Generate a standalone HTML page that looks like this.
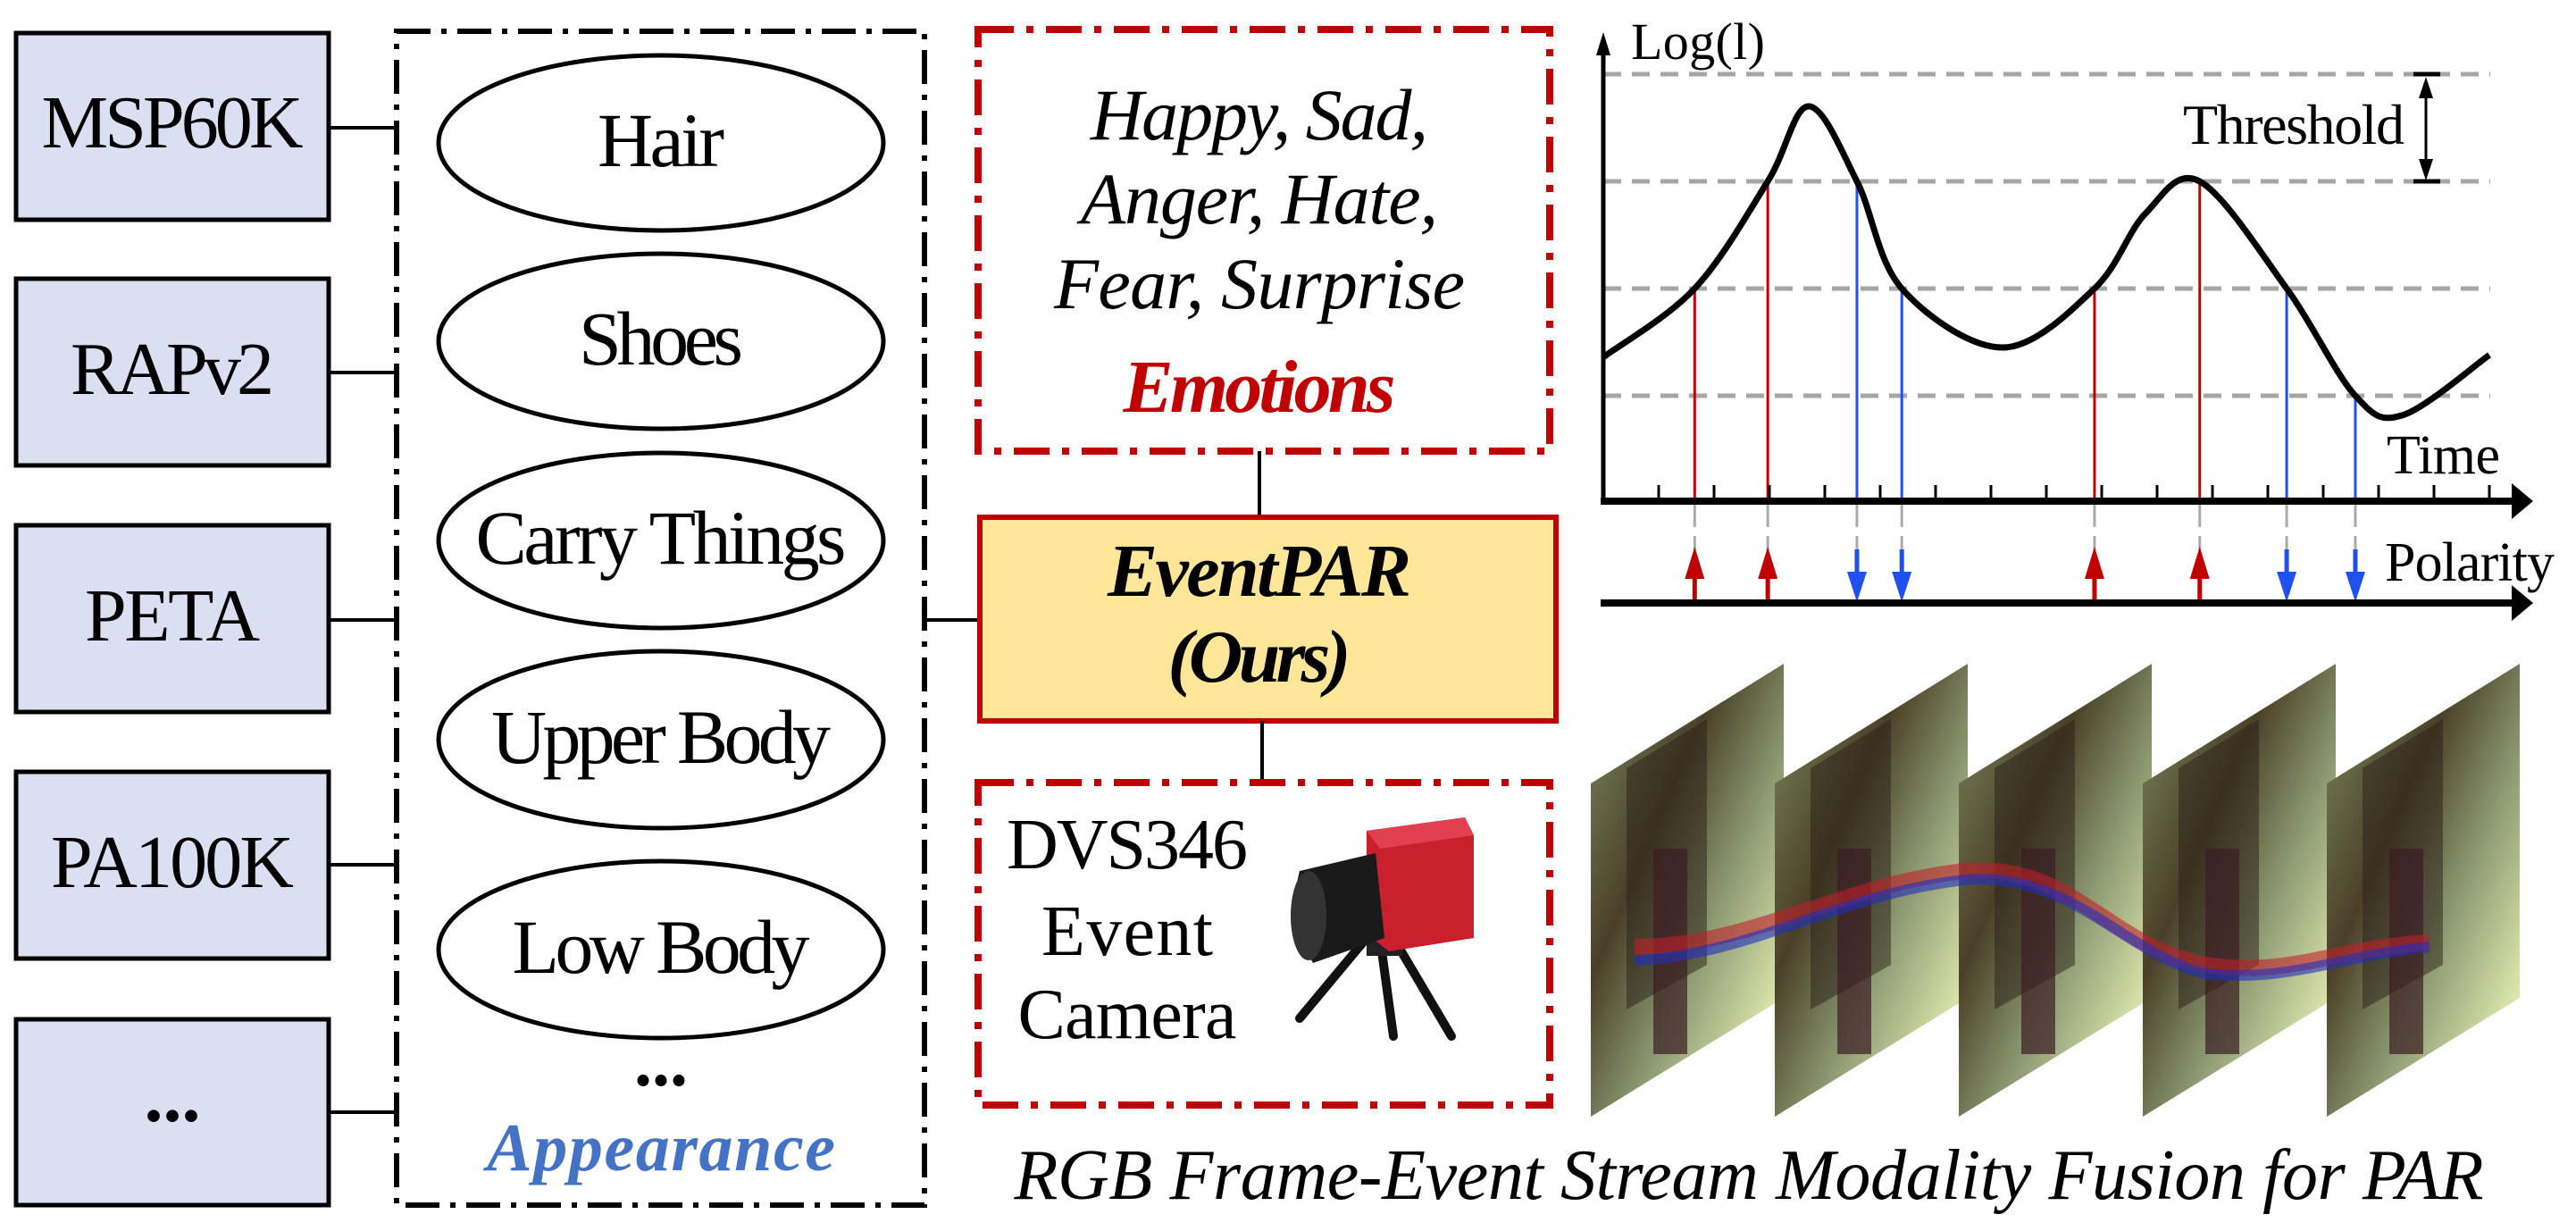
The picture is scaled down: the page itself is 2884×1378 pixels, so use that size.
<!DOCTYPE html>
<html><head><meta charset="utf-8"><style>
html,body{margin:0;padding:0;background:#fff;}
svg{display:block;}
svg text{font-family:"Liberation Serif","Times New Roman",serif !important;}
.t{fill:#000;}
</style></head><body>
<svg id="fig" width="2884" height="1378" viewBox="0 0 2884 1378" xmlns="http://www.w3.org/2000/svg" font-family="Liberation Serif, serif">
<defs>
<linearGradient id="frameGrad" x1="0" y1="0" x2="1" y2="1">
<stop offset="0" stop-color="#7f8a62"/><stop offset="0.35" stop-color="#4a4028"/><stop offset="0.6" stop-color="#8d9a72"/><stop offset="0.85" stop-color="#d9e3aa"/><stop offset="1" stop-color="#f6f8d0"/>
</linearGradient>
</defs>

<g>
<rect x="18" y="37" width="350" height="209" fill="#DAE0F2" stroke="#000" stroke-width="5"/>
<text class="t" x="193" y="165" font-size="84" text-anchor="middle" textLength="293">MSP60K</text>
<rect x="18" y="312" width="350" height="209" fill="#DAE0F2" stroke="#000" stroke-width="5"/>
<text class="t" x="193" y="441" font-size="84" text-anchor="middle" textLength="228">RAPv2</text>
<rect x="18" y="588" width="350" height="209" fill="#DAE0F2" stroke="#000" stroke-width="5"/>
<text class="t" x="193" y="717" font-size="84" text-anchor="middle" textLength="196">PETA</text>
<rect x="18" y="864" width="350" height="209" fill="#DAE0F2" stroke="#000" stroke-width="5"/>
<text class="t" x="193" y="993" font-size="84" text-anchor="middle" textLength="272">PA100K</text>
<rect x="18" y="1141" width="350" height="208" fill="#DAE0F2" stroke="#000" stroke-width="5"/>
<text class="t" x="193" y="1255" font-size="84" font-weight="bold" text-anchor="middle">...</text>
</g>
<g stroke="#000" stroke-width="4">
<line x1="368" y1="143" x2="444" y2="143"/><line x1="368" y1="417" x2="444" y2="417"/><line x1="368" y1="694" x2="444" y2="694"/><line x1="368" y1="968" x2="444" y2="968"/><line x1="368" y1="1245" x2="444" y2="1245"/>
<line x1="1035" y1="694" x2="1097" y2="694"/>
</g>

<rect x="444" y="35" width="591" height="1314" fill="none" stroke="#000" stroke-width="6" stroke-dasharray="38,12,6,12"/>
<g fill="#fff" stroke="#000" stroke-width="5">
<ellipse cx="740" cy="160" rx="249" ry="98"/>
<ellipse cx="740" cy="382" rx="249" ry="98"/>
<ellipse cx="740" cy="605" rx="249" ry="98"/>
<ellipse cx="740" cy="828" rx="249" ry="99"/>
<ellipse cx="740" cy="1063" rx="249" ry="99"/>
</g>
<text class="t" x="740" y="186" font-size="86" text-anchor="middle" textLength="142">Hair</text>
<text class="t" x="740" y="408" font-size="86" text-anchor="middle" textLength="184">Shoes</text>
<text class="t" x="740" y="631" font-size="86" text-anchor="middle" textLength="415">Carry Things</text>
<text class="t" x="740" y="854" font-size="86" text-anchor="middle" textLength="380">Upper Body</text>
<text class="t" x="740" y="1089" font-size="86" text-anchor="middle" textLength="333">Low Body</text>
<text class="t" x="740" y="1215" font-size="80" font-weight="bold" text-anchor="middle">...</text>
<text x="740" y="1310" font-size="76" font-weight="bold" font-style="italic" text-anchor="middle" fill="#4472C4" textLength="390">Appearance</text>

<rect x="1095" y="33" width="640" height="472" fill="none" stroke="#C00000" stroke-width="8" stroke-dasharray="40,14,8,14"/>
<text class="t" x="1410" y="156" font-size="82" font-style="italic" text-anchor="middle" textLength="378">Happy, Sad,</text>
<text class="t" x="1410" y="250" font-size="82" font-style="italic" text-anchor="middle" textLength="400">Anger, Hate,</text>
<text class="t" x="1410" y="345" font-size="82" font-style="italic" text-anchor="middle" textLength="460">Fear, Surprise</text>
<text x="1410" y="461" font-size="84" font-weight="bold" font-style="italic" fill="#C00000" text-anchor="middle" textLength="305">Emotions</text>
<line x1="1410" y1="505" x2="1410" y2="579" stroke="#000" stroke-width="4"/>

<rect x="1097" y="579" width="645" height="228" fill="#FFE699" stroke="#C00000" stroke-width="6"/>
<text class="t" x="1410" y="667" font-size="84" font-weight="bold" font-style="italic" text-anchor="middle" textLength="340">EventPAR</text>
<text class="t" x="1410" y="763" font-size="84" font-weight="bold" font-style="italic" text-anchor="middle" textLength="205">(Ours)</text>
<line x1="1413" y1="807" x2="1413" y2="878" stroke="#000" stroke-width="4"/>

<rect x="1095" y="876" width="640" height="361" fill="none" stroke="#C00000" stroke-width="8" stroke-dasharray="40,14,8,14"/>
<text class="t" x="1262" y="972" font-size="80" text-anchor="middle" textLength="270">DVS346</text>
<text class="t" x="1262" y="1069" font-size="80" text-anchor="middle" textLength="192">Event</text>
<text class="t" x="1262" y="1162" font-size="80" text-anchor="middle" textLength="245">Camera</text>
<g>
<path d="M1530 1050 L1455 1140 M1560 1050 L1625 1160 M1545 1050 L1560 1160" stroke="#111" stroke-width="10" stroke-linecap="round" fill="none"/>
<rect x="1530" y="1010" width="40" height="60" fill="#222"/>
<path d="M1530 930 L1640 915 L1650 935 L1650 1050 L1555 1065 L1530 1045 Z" fill="#c8202c"/>
<path d="M1530 930 L1640 915 L1650 935 L1545 950 Z" fill="#e04050"/>
<path d="M1455 975 L1540 955 L1550 1050 L1470 1078 Q1440 1030 1455 975 Z" fill="#1a1a1a"/>
<ellipse cx="1465" cy="1025" rx="20" ry="50" fill="#333"/>
</g>

<g id="chart"></g>
<g id="frames"></g>

<text class="t" x="1958" y="1342" font-size="80" font-style="italic" text-anchor="middle" textLength="1645">RGB Frame-Event Stream Modality Fusion for PAR</text>
</svg>
<script>
const curveTimes = [0, 1.65, 2.97, 3.71, 4.58, 5.39, 7.21, 8.87, 9.79, 10.77, 12.34, 13.58, 14.44, 16.0];
const curveLogI = [1.36, 2.0, 3.0, 3.7, 3.0, 2.0, 1.45, 2.0, 2.7, 3.0, 2.0, 1.0, 0.82, 1.38];
const eventTimes = [1.65, 2.97, 4.58, 5.39, 8.87, 10.77, 12.34, 13.58];
const eventLevels = [2, 3, 3, 2, 2, 3, 2, 1];
const eventPolarity = [1, 1, -1, -1, 1, 1, -1, -1];
const thresholdLevels = [1, 2, 3, 4];
const tickTimes = [1,2,3,4,5,6,7,8,9,10,11,12,13,14,15,16];
const frameIndex = [0, 1, 2, 3, 4];

const NS = 'http://www.w3.org/2000/svg';
const X0 = 1795, XUNIT = 62, AXY = 561;
function xScale(t){ return X0 + t * XUNIT; }
function yScale(v){ return 563 - v * 120; }
function mk(tag, attrs, parent){
  const e = document.createElementNS(NS, tag);
  for (const k in attrs) e.setAttribute(k, attrs[k]);
  parent.appendChild(e); return e;
}
const chart = document.getElementById('chart');

thresholdLevels.forEach(function(l){
  const ln = mk('line', {x1: X0, x2: 2788, y1: yScale(l), y2: yScale(l), stroke: '#a6a6a6', 'stroke-width': 5, 'stroke-dasharray': '20,12'}, chart);
  
  
});

const POLY = 675;
eventTimes.forEach(function(t, i){
  const x = xScale(t), col = eventPolarity[i] > 0 ? '#C00000' : '#2050F0';
  const v = mk('line', {x1: x, x2: x, y1: yScale(eventLevels[i]), y2: AXY, stroke: col, 'stroke-width': 3}, chart);
  
  
  const g1 = mk('line', {x1: x, x2: x, y1: AXY, y2: 590, stroke: '#aaa', 'stroke-width': 3}, chart);
  
  
  const g2 = mk('line', {x1: x, x2: x, y1: 600, y2: 616, stroke: '#aaa', 'stroke-width': 3}, chart);
  
  
  const ag = mk('g', {}, chart);
  
  
  if (eventPolarity[i] > 0){
    mk('line', {x1: x, x2: x, y1: POLY, y2: 640, stroke: col, 'stroke-width': 5}, ag);
    mk('polygon', {points: (x-11)+','+648+' '+x+','+612+' '+(x+11)+','+648, fill: col}, ag);
  } else {
    mk('line', {x1: x, x2: x, y1: 615, y2: 645, stroke: col, 'stroke-width': 5}, ag);
    mk('polygon', {points: (x-11)+','+640+' '+x+','+674+' '+(x+11)+','+640, fill: col}, ag);
  }
});

tickTimes.forEach(function(t){
  const tk = mk('line', {x1: xScale(t), x2: xScale(t), y1: 543, y2: AXY, stroke: '#000', 'stroke-width': 3}, chart);
  
  
});

const pts = curveTimes.map(function(t, i){ return [xScale(t), yScale(curveLogI[i])]; });
let d = 'M' + pts[0][0] + ' ' + pts[0][1];
for (let i = 0; i < pts.length - 1; i++){
  const p0 = pts[Math.max(0, i-1)], p1 = pts[i], p2 = pts[i+1], p3 = pts[Math.min(pts.length-1, i+2)];
  const c1 = [p1[0] + (p2[0]-p0[0])/6, p1[1] + (p2[1]-p0[1])/6];
  const c2 = [p2[0] - (p3[0]-p1[0])/6, p2[1] - (p3[1]-p1[1])/6];
  d += ' C' + c1[0] + ' ' + c1[1] + ' ' + c2[0] + ' ' + c2[1] + ' ' + p2[0] + ' ' + p2[1];
}
const curve = mk('path', {d: d, fill: 'none', stroke: '#000', 'stroke-width': 7}, chart);



const ya = mk('path', {d: 'M1795 563 L1795 45', stroke: '#000', 'stroke-width': 5, fill: 'none'}, chart);


const yah = mk('polygon', {points: '1787,62 1795,36 1803,62', fill: '#000'}, chart);


const xa = mk('path', {d: 'M1792 561 L2820 561', stroke: '#000', 'stroke-width': 8, fill: 'none'}, chart);


const xah = mk('polygon', {points: '2812,541 2836,561 2812,581', fill: '#000'}, chart);


const pa = mk('path', {d: 'M1792 675 L2820 675', stroke: '#000', 'stroke-width': 8, fill: 'none'}, chart);


const pah = mk('polygon', {points: '2812,655 2836,675 2812,695', fill: '#000'}, chart);



const thr = mk('g', {}, chart);


mk('line', {x1: 2716, x2: 2716, y1: 95, y2: 192, stroke: '#000', 'stroke-width': 3}, thr);
mk('polygon', {points: '2708,110 2716,86 2724,110', fill: '#000'}, thr);
mk('polygon', {points: '2708,178 2716,202 2724,178', fill: '#000'}, thr);
mk('line', {x1: 2702, x2: 2732, y1: yScale(4), y2: yScale(4), stroke: '#000', 'stroke-width': 5}, thr);
mk('line', {x1: 2702, x2: 2732, y1: yScale(3), y2: yScale(3), stroke: '#000', 'stroke-width': 5}, thr);

function label(txt, x, y, len, fs, name){
  const t = mk('text', {x: x, y: y, 'font-size': fs, textLength: len, class: 't'}, chart);
  t.textContent = txt;
  
  
}
label('Log(l)', 1826, 66, 150, 58, 'y-axis-title');
label('Threshold', 2444, 161, 248, 64, 'threshold-label');
label('Time', 2672, 530, 127, 62, 'time-axis-title');
label('Polarity', 2670, 650, 190, 62, 'polarity-axis-title');

const frames = document.getElementById('frames');
frameIndex.forEach(function(i){
  const lx = 1781 + i * 206, w = 216;
  const g = mk('g', {}, frames);
  
  
  const pts = lx+','+877+' '+(lx+w)+','+743+' '+(lx+w)+','+1117+' '+lx+','+1250;
  mk('polygon', {points: pts, fill: 'url(#frameGrad)'}, g);
  mk('polygon', {points: (lx+40)+','+860+' '+(lx+130)+','+805+' '+(lx+130)+','+1080+' '+(lx+40)+','+1130, fill: '#2a2018', opacity: 0.5}, g);
  mk('rect', {x: lx+70, y: 950, width: 38, height: 230, fill: '#3a1c22', opacity: 0.7}, g);
});
const wave = mk('path', {d: 'M1830 1060 C1960 1060 2060 990 2200 975 C2320 965 2360 1060 2470 1080 C2560 1095 2620 1060 2720 1055', stroke: '#c0202a', 'stroke-width': 18, fill: 'none', opacity: 0.6}, frames);


const wave2 = mk('path', {d: 'M1830 1075 C1960 1070 2060 1000 2200 985 C2320 975 2380 1070 2470 1090 C2560 1100 2620 1070 2720 1060', stroke: '#2030c0', 'stroke-width': 12, fill: 'none', opacity: 0.6}, frames);


</script>
</body></html>
